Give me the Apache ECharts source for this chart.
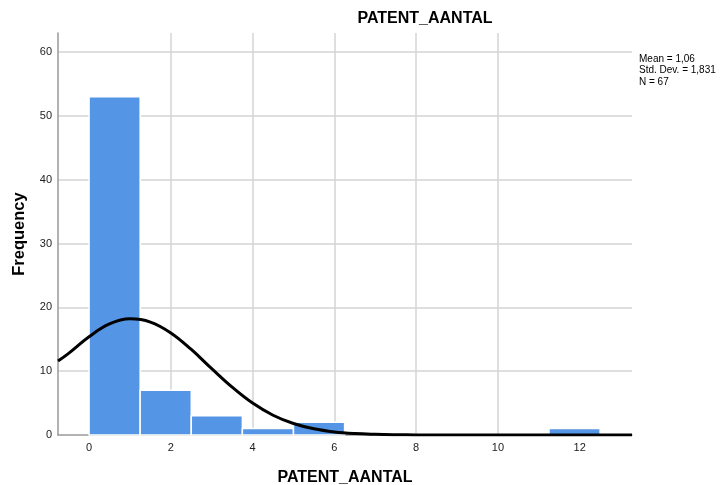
<!DOCTYPE html>
<html><head><meta charset="utf-8">
<script src="https://cdn.jsdelivr.net/npm/echarts@6/dist/echarts.min.js"></script>
<style>html,body{margin:0;padding:0;background:#fff}#c{width:720px;height:485px}</style>
</head><body><div id="c"></div>
<script>
var binStarts = [0, 1.25, 2.5, 3.75, 5, 11.25];
var binWidth = 1.25;
var binCounts = [53, 7, 3, 1, 2, 1];
var curveX = [-0.76, -0.5, 0, 0.5, 1.0, 1.5, 2.0, 2.5, 3.0, 3.5, 4.0, 4.5, 5.0, 5.5, 6.0, 6.5, 7.0, 7.5, 8.0, 9.0, 10.0, 11.0, 12.0, 13.28];
var curveY = [11.6, 12.8, 15.4, 17.4, 18.2, 17.7, 16.0, 13.4, 10.4, 7.5, 5.0, 3.1, 1.8, 0.97, 0.48, 0.22, 0.1, 0.04, 0.014, 0.001, 0, 0, 0, 0];
var xTicks = [0, 2, 4, 6, 8, 10, 12];
var stats = ['Mean = 1,06', 'Std. Dev. = 1,831', 'N = 67'];
var titleText = 'PATENT_AANTAL';

var font = "'Liberation Sans',Arial,sans-serif";
var bars = binStarts.map(function (s, i) { return [s, s + binWidth, binCounts[i]]; });
var curve = curveX.map(function (x, i) { return [x, curveY[i]]; });

var chart = echarts.init(document.getElementById('c'));
chart.setOption({
  animation: false,
  title: {
    text: titleText, left: 420, top: 6, textAlign: 'center',
    textStyle: { fontFamily: font, fontSize: 16, fontWeight: 'bold', color: '#000' }
  },
  graphic: [{
    type: 'text', left: 639, top: 53,
    style: { text: stats.join('\n'), fontFamily: font, fontSize: 10, lineHeight: 11.5, fill: '#000' }
  }],
  grid: { left: 58, right: 88, top: 33, bottom: 50, outerBoundsMode: 'none', containLabel: false },
  xAxis: {
    type: 'value', min: -0.76, max: 13.28,
    name: titleText, nameLocation: 'middle', nameGap: 35,
    nameTextStyle: { fontFamily: font, fontSize: 16, fontWeight: 'bold', color: '#000' },
    axisLine: { show: true, onZero: false, lineStyle: { color: '#999', width: 1.5 } },
    axisTick: { show: false, customValues: xTicks },
    axisLabel: { customValues: xTicks, fontFamily: font, fontSize: 11, color: '#222', margin: 7 },
    splitLine: { show: true, showMinLine: false, showMaxLine: false, lineStyle: { color: '#d4d4d4', width: 1.5 } }
  },
  yAxis: {
    type: 'value', min: 0, max: 63, interval: 10,
    name: 'Frequency', nameLocation: 'middle', nameGap: 30, nameRotate: 90,
    nameTextStyle: { fontFamily: font, fontSize: 16.5, fontWeight: 'bold', color: '#000' },
    axisLine: { show: true, onZero: false, lineStyle: { color: '#999', width: 1.5 } },
    axisTick: { show: false },
    axisLabel: { fontFamily: font, fontSize: 11, color: '#222', margin: 6, showMaxLabel: false },
    splitLine: { show: true, showMinLine: false, showMaxLine: false, lineStyle: { color: '#d4d4d4', width: 1.5 } }
  },
  series: [{
    type: 'custom',
    data: bars,
    renderItem: function (params, api) {
      var p0 = api.coord([api.value(0), api.value(2)]);
      var p1 = api.coord([api.value(1), 0]);
      return {
        type: 'rect',
        shape: { x: p0[0], y: p0[1], width: p1[0] - p0[0], height: p1[1] - p0[1] },
        style: { fill: '#5595e5', stroke: '#ffffff', lineWidth: 1.5 }
      };
    },
    z: 2
  }, {
    type: 'line', data: curve, smooth: 0.4, showSymbol: false, symbol: 'none',
    lineStyle: { color: '#000', width: 3 }, z: 3, clip: true
  }]
});
</script></body></html>
